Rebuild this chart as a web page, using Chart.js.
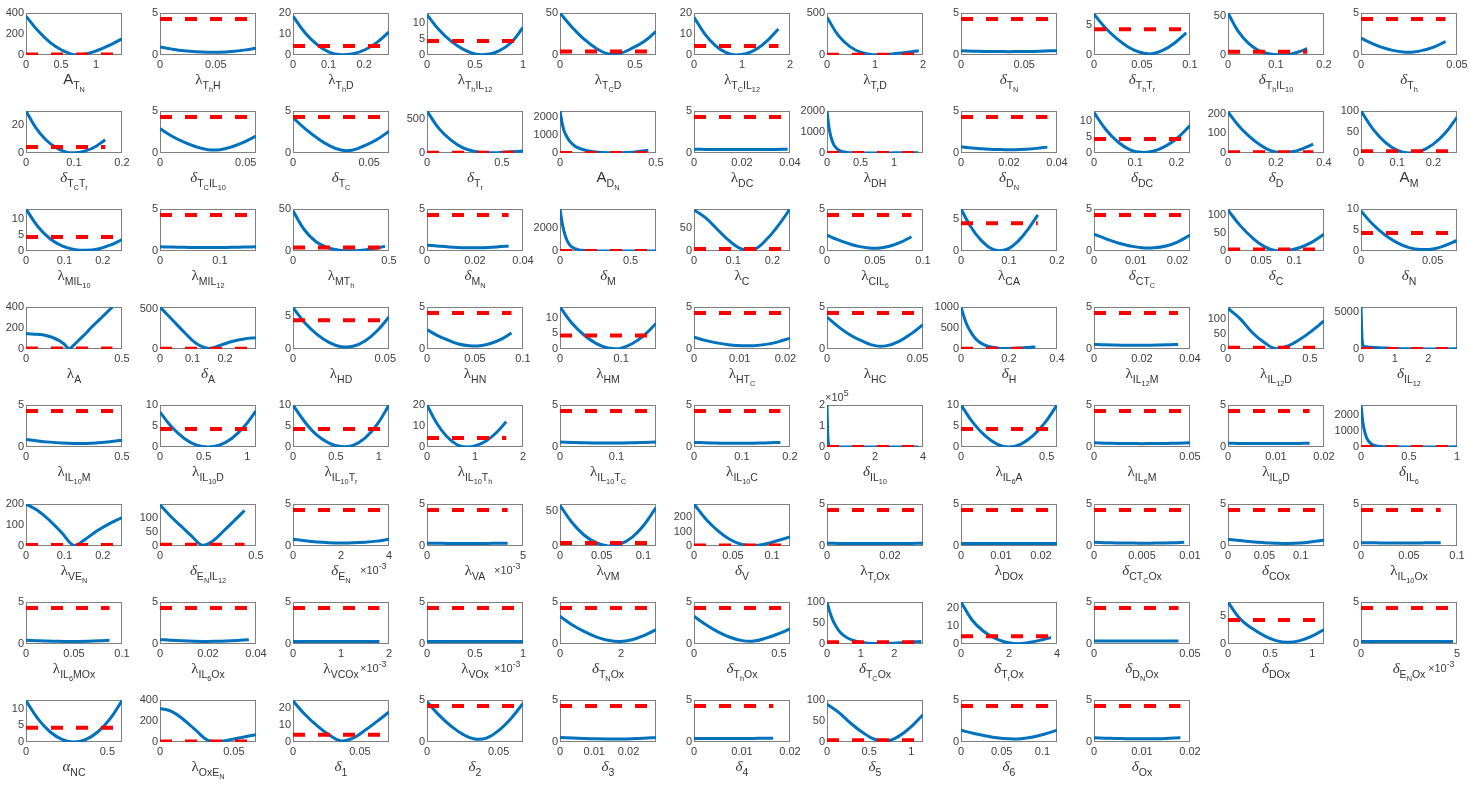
<!DOCTYPE html>
<html>
<head>
<meta charset="utf-8">
<script src="https://cdn.jsdelivr.net/npm/chart.js@4.4.1/dist/chart.umd.min.js"></script>
<style>
body { margin: 0; background: #fff; }
#fig { position: relative; width: 1470px; height: 785px; overflow: hidden; font-family: "Liberation Sans", Arial, sans-serif; }
#fig canvas { position: absolute; }
.lab { position: absolute; transform: translateX(-50%); white-space: nowrap; font-size: 15px; line-height: 15px; color: #333; }
.lab sub { font-size: 70%; vertical-align: -0.45em; line-height: 0; }
.g { font-family: "Liberation Serif", "DejaVu Serif", serif; }
.i { font-style: italic; }
.exp { position: absolute; white-space: nowrap; font-size: 11px; line-height: 11px; color: #404040; }
.exp sup { font-size: 80%; vertical-align: 0.55em; line-height: 0; }
</style>
</head>
<body>
<div id="fig"></div>
<script>
// parameter names, row by row (11 panels per row)
const paramLabels = [
  'A<sub>T<sub>N</sub></sub>', 'λ<sub>T<sub>h</sub>H</sub>', 'λ<sub>T<sub>h</sub>D</sub>', 'λ<sub>T<sub>h</sub>IL<sub>12</sub></sub>',
  'λ<sub>T<sub>C</sub>D</sub>', 'λ<sub>T<sub>C</sub>IL<sub>12</sub></sub>', 'λ<sub>T<sub>r</sub>D</sub>', 'δ<sub>T<sub>N</sub></sub>',
  'δ<sub>T<sub>h</sub>T<sub>r</sub></sub>', 'δ<sub>T<sub>h</sub>IL<sub>10</sub></sub>', 'δ<sub>T<sub>h</sub></sub>',

  'δ<sub>T<sub>C</sub>T<sub>r</sub></sub>', 'δ<sub>T<sub>C</sub>IL<sub>10</sub></sub>', 'δ<sub>T<sub>C</sub></sub>', 'δ<sub>T<sub>r</sub></sub>',
  'A<sub>D<sub>N</sub></sub>', 'λ<sub>DC</sub>', 'λ<sub>DH</sub>', 'δ<sub>D<sub>N</sub></sub>', 'δ<sub>DC</sub>', 'δ<sub>D</sub>', 'A<sub>M</sub>',

  'λ<sub>MIL<sub>10</sub></sub>', 'λ<sub>MIL<sub>12</sub></sub>', 'λ<sub>MT<sub>h</sub></sub>', 'δ<sub>M<sub>N</sub></sub>', 'δ<sub>M</sub>',
  'λ<sub>C</sub>', 'λ<sub>CIL<sub>6</sub></sub>', 'λ<sub>CA</sub>', 'δ<sub>CT<sub>C</sub></sub>', 'δ<sub>C</sub>', 'δ<sub>N</sub>',

  'λ<sub>A</sub>', 'δ<sub>A</sub>', 'λ<sub>HD</sub>', 'λ<sub>HN</sub>', 'λ<sub>HM</sub>', 'λ<sub>HT<sub>C</sub></sub>', 'λ<sub>HC</sub>',
  'δ<sub>H</sub>', 'λ<sub>IL<sub>12</sub>M</sub>', 'λ<sub>IL<sub>12</sub>D</sub>', 'δ<sub>IL<sub>12</sub></sub>',

  'λ<sub>IL<sub>10</sub>M</sub>', 'λ<sub>IL<sub>10</sub>D</sub>', 'λ<sub>IL<sub>10</sub>T<sub>r</sub></sub>', 'λ<sub>IL<sub>10</sub>T<sub>h</sub></sub>',
  'λ<sub>IL<sub>10</sub>T<sub>C</sub></sub>', 'λ<sub>IL<sub>10</sub>C</sub>', 'δ<sub>IL<sub>10</sub></sub>', 'λ<sub>IL<sub>6</sub>A</sub>',
  'λ<sub>IL<sub>6</sub>M</sub>', 'λ<sub>IL<sub>6</sub>D</sub>', 'δ<sub>IL<sub>6</sub></sub>',

  'λ<sub>VE<sub>N</sub></sub>', 'δ<sub>E<sub>N</sub>IL<sub>12</sub></sub>', 'δ<sub>E<sub>N</sub></sub>', 'λ<sub>VA</sub>', 'λ<sub>VM</sub>',
  'δ<sub>V</sub>', 'λ<sub>T<sub>r</sub>Ox</sub>', 'λ<sub>DOx</sub>', 'δ<sub>CT<sub>C</sub>Ox</sub>', 'δ<sub>COx</sub>', 'λ<sub>IL<sub>10</sub>Ox</sub>',

  'λ<sub>IL<sub>6</sub>MOx</sub>', 'λ<sub>IL<sub>6</sub>Ox</sub>', 'λ<sub>VCOx</sub>', 'λ<sub>VOx</sub>', 'δ<sub>T<sub>N</sub>Ox</sub>',
  'δ<sub>T<sub>h</sub>Ox</sub>', 'δ<sub>T<sub>C</sub>Ox</sub>', 'δ<sub>T<sub>r</sub>Ox</sub>', 'δ<sub>D<sub>N</sub>Ox</sub>', 'δ<sub>DOx</sub>',
  'δ<sub>E<sub>N</sub>Ox</sub>',

  'α<sub>NC</sub>', 'λ<sub>OxE<sub>N</sub></sub>', 'δ<sub>1</sub>', 'δ<sub>2</sub>', 'δ<sub>3</sub>', 'δ<sub>4</sub>', 'δ<sub>5</sub>',
  'δ<sub>6</sub>', 'δ<sub>Ox</sub>'
];

const xLimits = [
  1.37, 0.086, 0.27, 1.0, 0.64, 2, 2, 0.076, 0.1, 0.2, 0.05,
  0.2, 0.056, 0.063, 0.64, 0.5, 0.04, 1.43, 0.04, 0.233, 0.4, 0.265,
  0.25, 0.16, 0.5, 0.04, 0.68, 0.245, 0.1, 0.2, 0.023, 0.145, 0.067,
  0.5, 0.295, 0.052, 0.1, 0.157, 0.021, 0.053, 0.4, 0.04, 0.586, 2.85,
  0.5, 1.1, 1.12, 2, 0.17, 0.2, 4, 0.56, 0.05, 0.02, 1,
  0.25, 0.5, 0.004, 0.005, 0.115, 0.123, 0.0305, 0.024, 0.01, 0.132, 0.1,
  0.1, 0.04, 0.002, 0.001, 3.15, 0.565, 2.85, 4, 0.05, 1.14, 0.005,
  0.59, 0.065, 0.0717, 0.067, 0.028, 0.02, 1.14, 0.118, 0.02
];

const yLimits = [
  400, 5, 20, 13, 50, 20, 500, 5, 7, 54, 5,
  30, 5, 5, 620, 2300, 5, 2000, 5, 13, 215, 100,
  13, 5, 50, 5, 3600, 92, 5, 6.5, 5, 118, 10,
  400, 520, 6.3, 5, 13.5, 5, 5, 1000, 5, 138, 5700,
  5, 10, 10, 20, 5, 5, 200000, 10, 5, 5, 2600,
  200, 148, 5, 5, 60, 290, 5, 5, 5, 5, 5,
  5, 5, 5, 5, 5, 5, 100, 23, 5, 7.5, 5,
  12.7, 400, 24.5, 5, 5, 5, 100, 5, 5
];

const xTickVals = [
  [0,0.5,1], [0,0.05], [0,0.1,0.2], [0,0.5,1], [0,0.5], [0,1,2], [0,1,2], [0,0.05], [0,0.05,0.1], [0,0.1,0.2], [0,0.05],
  [0,0.1,0.2], [0,0.05], [0,0.05], [0,0.5], [0,0.5], [0,0.02,0.04], [0,0.5,1], [0,0.02,0.04], [0,0.1,0.2], [0,0.2,0.4], [0,0.1,0.2],
  [0,0.1,0.2], [0,0.1], [0,0.5], [0,0.02,0.04], [0,0.5], [0,0.1,0.2], [0,0.05,0.1], [0,0.1,0.2], [0,0.01,0.02], [0,0.05,0.1], [0,0.05],
  [0,0.5], [0,0.1,0.2], [0,0.05], [0,0.05,0.1], [0,0.1], [0,0.01,0.02], [0,0.05], [0,0.2,0.4], [0,0.02,0.04], [0,0.5], [0,1,2],
  [0,0.5], [0,0.5,1], [0,0.5,1], [0,1,2], [0,0.1], [0,0.1,0.2], [0,2,4], [0,0.5], [0,0.05], [0,0.01,0.02], [0,0.5,1],
  [0,0.1,0.2], [0,0.5], [0,0.002,0.004], [0,0.005], [0,0.05,0.1], [0,0.05,0.1], [0,0.02], [0,0.01,0.02], [0,0.005,0.01], [0,0.05,0.1], [0,0.05,0.1],
  [0,0.05,0.1], [0,0.02,0.04], [0,0.001,0.002], [0,0.0005,0.001], [0,2], [0,0.5], [0,1,2], [0,2,4], [0,0.05], [0,0.5,1], [0,0.005],
  [0,0.5], [0,0.05], [0,0.05], [0,0.05], [0,0.01,0.02], [0,0.01,0.02], [0,0.5,1], [0,0.05,0.1], [0,0.01,0.02]
];

const yTickVals = [
  [0,200,400], [0,5], [0,10,20], [0,5,10], [0,50], [0,10,20], [0,500], [0,5], [0,5], [0,50], [0,5],
  [0,20], [0,5], [0,5], [0,500], [0,1000,2000], [0,5], [0,1000,2000], [0,5], [0,5,10], [0,100,200], [0,50,100],
  [0,5,10], [0,5], [0,50], [0,5], [0,2000], [0,50], [0,5], [0,5], [0,5], [0,50,100], [0,5,10],
  [0,200,400], [0,500], [0,5], [0,5], [0,5,10], [0,5], [0,5], [0,500,1000], [0,5], [0,50,100], [0,5000],
  [0,5], [0,5,10], [0,5,10], [0,10,20], [0,5], [0,5], [0,100000,200000], [0,5,10], [0,5], [0,5], [0,1000,2000],
  [0,100,200], [0,50,100], [0,5], [0,5], [0,50], [0,100,200], [0,5], [0,5], [0,5], [0,5], [0,5],
  [0,5], [0,5], [0,5], [0,5], [0,5], [0,5], [0,50,100], [0,10,20], [0,5], [0,5], [0,5],
  [0,5,10], [0,200,400], [0,10,20], [0,5], [0,5], [0,5], [0,50,100], [0,5], [0,5]
];

// last x reached by each profile curve
const curveEnds = [
  1.37, 0.086, 0.27, 1.0, 0.64, 1.76, 1.91, 0.076, 0.096, 0.165, 0.044,
  0.165, 0.056, 0.063, 0.64, 0.46, 0.039, 1.36, 0.036, 0.233, 0.355, 0.265,
  0.25, 0.16, 0.48, 0.034, 0.68, 0.245, 0.088, 0.16, 0.023, 0.145, 0.067,
  0.45, 0.295, 0.052, 0.088, 0.157, 0.021, 0.053, 0.31, 0.035, 0.586, 2.85,
  0.5, 1.1, 1.12, 1.65, 0.17, 0.18, 3.8, 0.56, 0.05, 0.017, 1,
  0.25, 0.44, 0.004, 0.0042, 0.115, 0.123, 0.0305, 0.024, 0.0094, 0.132, 0.083,
  0.087, 0.037, 0.0018, 0.001, 3.15, 0.565, 2.8, 3.75, 0.044, 1.14, 0.0048,
  0.59, 0.065, 0.0717, 0.067, 0.028, 0.0165, 1.14, 0.118, 0.018
];

// profile values (evenly spaced from 0 to the curve end unless listed in curveXs)
const curveValues = [
  [370,230,120,45,3,10,45,95,155],
  [0.95,0.7,0.5,0.38,0.32,0.33,0.42,0.58,0.8],
  [18.5,10.6,5,1.4,0.1,0.6,2.5,6,11],
  [12.5,7.8,4.3,1.8,0.3,0.2,1.3,3.8,8.5],
  [50,33,19,8,1.5,2,8,16,28],
  [18,10.2,4.6,1.2,0,0.7,3.1,7.1,12.4],
  [450,230,100,30,3,5,18,33,50],
  [0.5,0.46,0.43,0.41,0.4,0.41,0.43,0.47,0.52],
  [6.8,4.5,2.7,1.3,0.45,0.2,0.8,2,3.7],
  [54,31,16,6.5,2,0.3,0.5,3.5,8],
  [2.0,1.4,0.9,0.55,0.35,0.35,0.6,1.0,1.6],

  [30,18,9.5,4,0.8,0.2,1.5,4.5,9.5],
  [2.9,2.0,1.3,0.75,0.4,0.4,0.75,1.3,2.0],
  [4.2,2.9,1.8,0.9,0.35,0.35,0.9,1.6,2.6],
  [620,360,190,75,22,5,6,17,30],
  [2300,1700,1250,900,650,400,260,110,40,12,10,30,70,150],
  [0.45,0.43,0.42,0.41,0.41,0.41,0.42,0.43,0.45],
  [2000,1200,750,400,200,100,30,10,3,3,6,10,15],
  [0.75,0.6,0.5,0.42,0.4,0.4,0.45,0.55,0.7],
  [12.5,7.2,3.4,1.0,0.2,0.6,2.2,4.8,8.5],
  [210,140,85,42,12,2,6,22,45],
  [100,57,26,7,0.3,4.8,20.6,47,85],

  [13,7.5,3.8,1.6,0.5,0.2,0.6,1.8,3.5],
  [0.5,0.47,0.44,0.42,0.42,0.42,0.44,0.47,0.5],
  [48,25,11,4,1,0.2,1,3,5.5],
  [0.7,0.6,0.5,0.42,0.38,0.38,0.42,0.5,0.6],
  [3600,2800,2100,1400,900,500,220,60,15,3,3,5,8,10],
  [90,72,46,21,4,3,24,55,92],
  [1.9,1.35,0.9,0.55,0.35,0.35,0.6,1.05,1.7],
  [6.5,3.8,1.8,0.5,0.05,0.4,1.6,3.4,5.6],
  [2.0,1.45,0.95,0.6,0.38,0.38,0.6,1.1,1.9],
  [115,72,38,13,1,1.7,9.8,25,47],
  [9.5,6.3,3.8,2,0.8,0.35,0.5,1.3,2.5],

  [145,144,141,135,124,108,85,50,5,45,95,145,200,250,300,350,400],
  [520,365,210,70,8,45,92,125,140],
  [6.2,3.9,2.2,1,0.35,0.4,1.2,2.7,4.8],
  [2.3,1.6,1.05,0.6,0.38,0.38,0.65,1.15,1.9],
  [13.5,8.3,4.5,1.8,0.3,0.2,1.7,4.4,8.2],
  [1.4,1.0,0.7,0.48,0.38,0.4,0.55,0.85,1.3],
  [3.8,2.6,1.6,0.9,0.4,0.4,0.9,1.8,2.9],
  [1000,650,420,260,160,100,60,35,20,12,10,12,18,25,33,42,50],
  [0.55,0.5,0.47,0.45,0.44,0.45,0.47,0.5,0.55],
  [133,100,55,22,1,10,32,60,92],
  [5700,2500,600,350,280,200,120,60,20,10,15,25],

  [0.9,0.72,0.58,0.48,0.42,0.42,0.5,0.62,0.8],
  [8.3,4.7,2.1,0.5,0,0.5,2.1,4.8,8.6],
  [10,5.9,2.8,0.9,0.1,0.4,2.1,5.3,10],
  [20,11.2,5,1.2,0,0.8,3,6.8,12],
  [0.6,0.55,0.5,0.48,0.47,0.48,0.5,0.55,0.6],
  [0.55,0.5,0.47,0.45,0.45,0.45,0.47,0.5,0.55],
  [200000,60000,15000,4000,1500,600,300,200,200,250,300],
  [10,5.8,2.7,0.7,0,0.7,2.7,5.8,10],
  [0.5,0.46,0.43,0.41,0.4,0.41,0.43,0.46,0.5],
  [0.45,0.43,0.42,0.41,0.41,0.41,0.42,0.43,0.45],
  [2600,1500,900,550,220,80,30,10,5,5,8],

  [200,168,120,62,3,35,75,108,135],
  [145,105,70,35,3,18,52,88,125],
  [0.8,0.62,0.48,0.4,0.36,0.38,0.45,0.58,0.8],
  [0.32,0.32,0.31,0.31,0.31,0.31,0.31,0.32,0.32],
  [58,33.5,15.7,4.7,0.1,2.6,12.3,30,55],
  [290,185,105,45,10,2,15,38,62],
  [0.32,0.31,0.3,0.3,0.3,0.3,0.3,0.31,0.32],
  [0.31,0.3,0.3,0.3,0.3,0.3,0.3,0.3,0.31],
  [0.45,0.4,0.37,0.35,0.34,0.34,0.36,0.39,0.45],
  [0.8,0.65,0.5,0.4,0.33,0.3,0.35,0.5,0.7],
  [0.4,0.38,0.37,0.36,0.36,0.36,0.37,0.38,0.4],

  [0.45,0.4,0.35,0.32,0.31,0.31,0.33,0.38,0.45],
  [0.55,0.45,0.38,0.33,0.31,0.32,0.36,0.43,0.52],
  [0.3,0.3,0.3,0.3,0.3,0.3,0.3,0.3,0.3],
  [0.3,0.3,0.3,0.3,0.3,0.3,0.3,0.3,0.3],
  [3.3,2.3,1.5,0.85,0.45,0.3,0.5,1.0,1.7],
  [3.3,2.3,1.45,0.8,0.4,0.35,0.7,1.2,1.8],
  [100,72,52,32,20,9,4,1,1.5,3,4.5,6],
  [23,13,7,3.2,1,0.2,0.8,2,3.6],
  [0.35,0.35,0.35,0.35,0.35,0.35,0.35,0.35,0.35],
  [7.5,4.5,2.8,1.5,0.6,0.3,0.6,1.4,2.6],
  [0.3,0.3,0.3,0.3,0.3,0.3,0.3,0.3,0.3],

  [12.5,7.0,3.1,0.8,0,0.8,3.1,7.0,12.5],
  [320,290,210,110,15,5,25,48,70],
  [24,16,9.5,4.2,0.6,2.2,6.8,12,17.5],
  [4.8,3.2,1.9,0.9,0.35,0.5,1.4,2.8,4.6],
  [0.55,0.48,0.42,0.38,0.36,0.37,0.4,0.46,0.55],
  [0.42,0.42,0.42,0.42,0.42,0.42,0.43,0.44,0.45],
  [90,70,44,22,6,2,14,36,65],
  [1.4,1.05,0.75,0.5,0.38,0.4,0.6,0.95,1.4],
  [0.5,0.45,0.42,0.4,0.38,0.38,0.4,0.45,0.5]
];

// explicit x positions for the steep curves
const curveXs = {
  15: [0,0.01,0.02,0.035,0.05,0.075,0.1,0.15,0.2,0.25,0.3,0.35,0.4,0.46],
  17: [0,0.03,0.06,0.1,0.15,0.2,0.3,0.4,0.6,0.8,1,1.2,1.36],
  26: [0,0.01,0.02,0.035,0.05,0.07,0.1,0.15,0.2,0.3,0.4,0.5,0.6,0.68],
  43: [0,0.02,0.05,0.1,0.2,0.4,0.7,1,1.5,2,2.5,2.85],
  50: [0,0.03,0.06,0.1,0.15,0.25,0.5,1,2,3,3.8],
  54: [0,0.02,0.04,0.06,0.1,0.15,0.2,0.3,0.5,0.7,1],
  72: [0,0.1,0.2,0.35,0.5,0.75,1,1.4,1.8,2.2,2.5,2.8]
};

// axis multipliers (x10^n)
const xExponent = { 57: -3, 58: -3, 68: -3, 69: -3, 76: -3 };
const yExponent = { 50: 5 };

const threshold = 4.3;

// layout
const plotW = 96, plotH = 42, colStep = 133.5, rowStep = 98.2;
const padL = 2, axW = 28, padT = 10, padR = 20, axH = 16, padB = 2;
const fig = document.getElementById('fig');

function fmt(v, e) {
  const s = v / Math.pow(10, e || 0);
  return String(Math.round(s * 1e6) / 1e6);
}

const boxPlugin = {
  id: 'box',
  beforeDatasetsDraw(chart) {
    const a = chart.chartArea, ctx = chart.ctx;
    ctx.save();
    ctx.strokeStyle = '#808080';
    ctx.lineWidth = 1;
    ctx.strokeRect(a.left + 0.5, a.top + 0.5, a.right - a.left - 1, a.bottom - a.top - 1);
    ctx.restore();
  }
};

const tickFont = { family: 'Liberation Sans', size: 11 };

paramLabels.forEach((lab, i) => {
  const r = Math.floor(i / 11), c = i % 11;
  const left = Math.round(26 + colStep * c);
  const top = Math.round(12.5 + rowStep * r);

  const cv = document.createElement('canvas');
  cv.width = padL + axW + plotW + padR;
  cv.height = padT + plotH + axH + padB;
  cv.style.left = (left - padL - axW) + 'px';
  cv.style.top = (top - padT) + 'px';
  fig.appendChild(cv);

  const ys = curveValues[i];
  const steep = !!curveXs[i];
  const xs = curveXs[i] || ys.map((_, k) => curveEnds[i] * k / (ys.length - 1));
  const pts = ys.map((y, k) => ({ x: xs[k], y: y }));

  new Chart(cv, {
    type: 'line',
    data: {
      datasets: [
        {
          data: [{ x: 0, y: threshold }, { x: curveEnds[i], y: threshold }],
          borderColor: '#ff0000', borderWidth: 4, borderDash: [12, 13],
          pointRadius: 0, order: 0
        },
        {
          data: pts,
          borderColor: '#0072bd', borderWidth: 3, pointRadius: 0,
          cubicInterpolationMode: steep ? 'monotone' : 'default',
          tension: 0.4, borderJoinStyle: 'round', order: 1
        }
      ]
    },
    options: {
      responsive: false,
      animation: false,
      events: [],
      layout: { padding: { left: padL, top: padT, right: padR, bottom: padB } },
      plugins: { legend: { display: false }, tooltip: { enabled: false } },
      scales: {
        x: {
          type: 'linear', min: 0, max: xLimits[i],
          afterBuildTicks: s => { s.ticks = xTickVals[i].map(v => ({ value: v })); },
          afterFit: s => { s.height = axH; },
          grid: { display: false, drawTicks: false },
          border: { display: false },
          ticks: {
            padding: 3, maxRotation: 0, autoSkip: false, font: tickFont, color: '#404040',
            callback: v => fmt(v, xExponent[i])
          }
        },
        y: {
          type: 'linear', min: 0, max: yLimits[i],
          afterBuildTicks: s => { s.ticks = yTickVals[i].map(v => ({ value: v })); },
          afterFit: s => { s.width = axW; },
          grid: { display: false, drawTicks: false },
          border: { display: false },
          ticks: {
            padding: 2, autoSkip: false, font: tickFont, color: '#404040',
            callback: v => fmt(v, yExponent[i])
          }
        }
      }
    },
    plugins: [boxPlugin]
  });

  const d = document.createElement('div');
  d.className = 'lab';
  d.innerHTML = lab.replace(/λ/g, '<span class="g">λ</span>')
                   .replace(/δ/g, '<span class="g i">δ</span>')
                   .replace(/α/g, '<span class="g i">α</span>');
  d.style.left = (left + plotW / 2) + 'px';
  d.style.top = (top + plotH + 16) + 'px';
  fig.appendChild(d);

  if (xExponent[i] !== undefined) {
    const e = document.createElement('div');
    e.className = 'exp';
    e.innerHTML = '×10<sup>' + xExponent[i] + '</sup>';
    e.style.left = (left + 67) + 'px';
    e.style.top = (top + plotH + 19) + 'px';
    fig.appendChild(e);
  }
  if (yExponent[i] !== undefined) {
    const e = document.createElement('div');
    e.className = 'exp';
    e.innerHTML = '×10<sup>' + yExponent[i] + '</sup>';
    e.style.left = (left - 2) + 'px';
    e.style.top = (top - 13) + 'px';
    fig.appendChild(e);
  }
});
</script>
</body>
</html>
